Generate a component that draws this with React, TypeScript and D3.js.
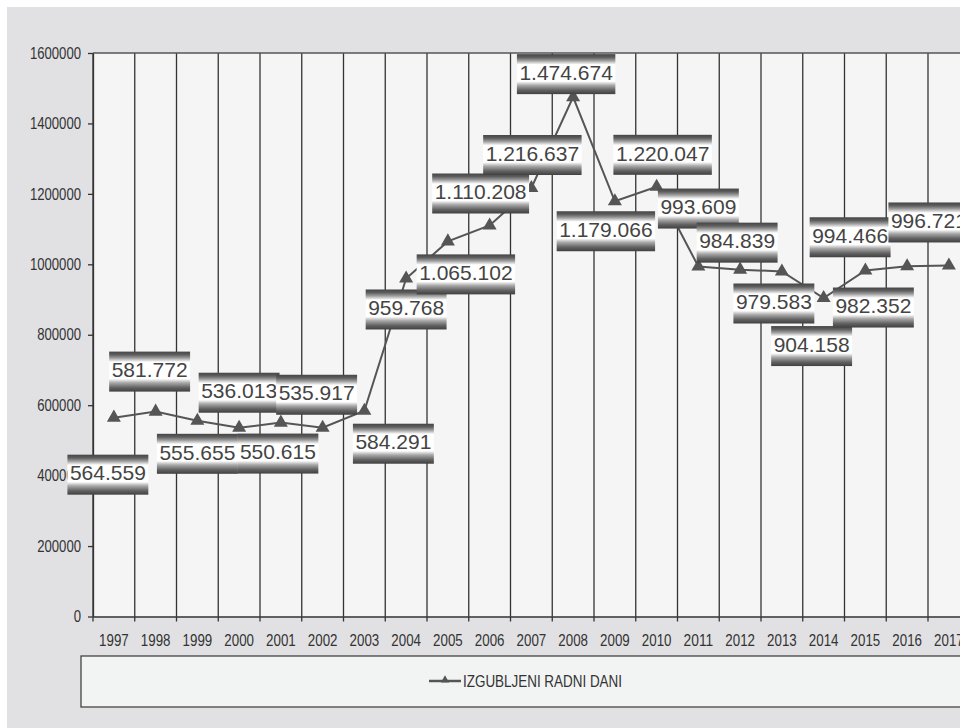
import { useEffect, useRef } from 'react';
import * as d3 from 'd3';

const years = [
  '1997', '1998', '1999', '2000', '2001', '2002', '2003', '2004', '2005', '2006', '2007',
  '2008', '2009', '2010', '2011', '2012', '2013', '2014', '2015', '2016', '2017',
];
const lostDays = [
  564559, 581772, 555655, 536013, 550615, 535917, 584291, 959768, 1065102, 1110208, 1216637,
  1474674, 1179066, 1220047, 993609, 984839, 979583, 904158, 982352, 994466, 996721,
];
const yTicks = [0, 200000, 400000, 600000, 800000, 1000000, 1200000, 1400000, 1600000];
const seriesName = 'IZGUBLJENI RADNI DANI';

// hand-placed label offsets (px from the point), as in the original sheet
const labelShift: [number, number][] = [
  [-6, 57], [-6, -40], [0, 33], [0, -35], [-3, 31], [-6, -33], [29, 33], [0, 31], [18, 33],
  [-9, -32], [1, -33], [-7, -23], [-9, 30], [6, -32], [0, -58], [-3, -27], [-8, 32],
  [-12, 48], [8, 37], [-57, -29], [-20, -43],
];

const fmt = (v: number) => d3.format(',')(v).replace(/,/g, '.');

export default function App() {
  const ref = useRef<SVGSVGElement | null>(null);

  useEffect(() => {
    if (!ref.current) return;
    const width = 960;
    const height = 728;
    const margin = { top: 53, left: 93, bottom: 616.5 };
    const step = 41.75;
    const font = "'Liberation Sans', Arial, sans-serif";

    const root = d3.select(ref.current);
    root.selectAll('*').remove();
    root.attr('width', width).attr('height', height);

    const defs = root.append('defs');
    const grad = defs
      .append('linearGradient')
      .attr('id', 'lblGrad')
      .attr('x1', 0)
      .attr('y1', 0)
      .attr('x2', 0)
      .attr('y2', 1);
    [
      [0, '#454545'],
      [0.08, '#5e5e5e'],
      [0.16, '#9c9c9c'],
      [0.26, '#ffffff'],
      [0.68, '#ffffff'],
      [0.78, '#a8a8a8'],
      [0.9, '#626262'],
      [1, '#404040'],
    ].forEach(([o, c]) => grad.append('stop').attr('offset', o as number).attr('stop-color', c as string));

    root.append('rect').attr('width', width).attr('height', height).attr('fill', '#ffffff');
    root.append('rect').attr('x', 7).attr('y', 7).attr('width', width).attr('height', height).attr('fill', '#e1e1e3');

    const x = d3
      .scaleBand<string>()
      .domain(years)
      .range([margin.left, margin.left + step * years.length]);
    const y = d3.scaleLinear().domain([0, 1600000]).range([margin.bottom, margin.top]);

    root
      .append('rect')
      .attr('x', margin.left)
      .attr('y', margin.top)
      .attr('width', width)
      .attr('height', margin.bottom - margin.top)
      .attr('fill', '#f5f5f5');

    // vertical grid lines on category boundaries
    root
      .append('g')
      .selectAll('line')
      .data(years)
      .join('line')
      .attr('x1', d => x(d)!)
      .attr('x2', d => x(d)!)
      .attr('y1', margin.top)
      .attr('y2', margin.bottom)
      .attr('stroke', '#333')
      .attr('stroke-width', 1.3);

    root
      .append('line')
      .attr('x1', margin.left)
      .attr('x2', width)
      .attr('y1', margin.top)
      .attr('y2', margin.top)
      .attr('stroke', '#555')
      .attr('stroke-width', 1.3);

    // condensed look of the original: tall glyphs squeezed to width
    const squeeze = (sel: d3.Selection<any, any, any, any>, perChar: number) =>
      sel.each(function () {
        const t = this as SVGTextElement;
        t.setAttribute('textLength', String((t.textContent || '').length * perChar));
        t.setAttribute('lengthAdjust', 'spacingAndGlyphs');
      });

    const yAxis = root
      .append('g')
      .attr('transform', `translate(${margin.left},0)`)
      .call(d3.axisLeft(y).tickValues(yTicks).tickFormat(d => String(d)).tickSize(5).tickPadding(7).tickSizeOuter(0));
    yAxis.select('.domain').attr('stroke', '#333').attr('stroke-width', 1.3);
    yAxis.selectAll('line').attr('stroke', '#333').attr('stroke-width', 1.3);
    const yText = yAxis.selectAll('text').attr('fill', '#333').attr('font-size', 16).attr('font-family', font);
    squeeze(yText, 7.3);

    const xAxis = root
      .append('g')
      .attr('transform', `translate(0,${margin.bottom})`)
      .call(d3.axisBottom(x).tickSize(0).tickPadding(18));
    xAxis.select('.domain').attr('stroke', '#333').attr('stroke-width', 1.3);
    const xText = xAxis.selectAll('text').attr('fill', '#333').attr('font-size', 16).attr('font-family', font);
    squeeze(xText, 7.4);
    xAxis
      .append('g')
      .selectAll('line')
      .data(years)
      .join('line')
      .attr('x1', d => x(d)!)
      .attr('x2', d => x(d)!)
      .attr('y1', 0)
      .attr('y2', 5)
      .attr('stroke', '#333')
      .attr('stroke-width', 1.3);

    const cx = (i: number) => x(years[i])! + x.bandwidth() / 2;

    const line = d3
      .line<number>()
      .x((_, i) => cx(i))
      .y(d => y(d));

    root
      .append('path')
      .datum(lostDays)
      .attr('fill', 'none')
      .attr('stroke', '#555')
      .attr('stroke-width', 2)
      .attr('d', line);

    const tri = d3.symbol().type(d3.symbolTriangle).size(85);
    root
      .append('g')
      .selectAll('path')
      .data(lostDays)
      .join('path')
      .attr('transform', (d, i) => `translate(${cx(i)},${y(d)})`)
      .attr('d', tri)
      .attr('fill', '#555');

    // data labels
    const labels = root
      .append('g')
      .selectAll('g')
      .data(lostDays)
      .join('g')
      .attr('transform', (d, i) => `translate(${cx(i) + labelShift[i][0]},${y(d) + labelShift[i][1]})`);
    const rects = labels.append('rect').attr('fill', 'url(#lblGrad)');
    const texts = labels
      .append('text')
      .text(d => fmt(d))
      .attr('text-anchor', 'middle')
      .attr('dy', '0.32em')
      .attr('y', -1)
      .attr('font-size', 21)
      .attr('font-family', font)
      .attr('fill', '#444');
    texts.each(function (_, i) {
      const w = (this as SVGTextElement).getComputedTextLength() + 5;
      d3.select(rects.nodes()[i]).attr('x', -w / 2).attr('y', -20).attr('width', w).attr('height', 40);
    });

    // legend
    const legend = root.append('g');
    legend
      .append('rect')
      .attr('x', 81)
      .attr('y', 656)
      .attr('width', width)
      .attr('height', 51)
      .attr('fill', '#f2f3f3')
      .attr('stroke', '#444')
      .attr('stroke-width', 1.3);
    legend
      .append('line')
      .attr('x1', 429)
      .attr('x2', 461)
      .attr('y1', 681)
      .attr('y2', 681)
      .attr('stroke', '#555')
      .attr('stroke-width', 2.5);
    legend
      .append('path')
      .attr('transform', 'translate(445,680)')
      .attr('d', d3.symbol().type(d3.symbolTriangle).size(30))
      .attr('fill', '#555');
    const legendText = legend
      .append('text')
      .attr('x', 463)
      .attr('y', 681)
      .attr('dy', '0.35em')
      .attr('font-size', 16)
      .attr('font-family', font)
      .attr('fill', '#333')
      .text(seriesName);
    legendText.attr('textLength', 159).attr('lengthAdjust', 'spacingAndGlyphs');
  }, []);

  return <svg ref={ref} style={{ position: 'absolute', left: 0, top: 0, display: 'block' }} />;
}
